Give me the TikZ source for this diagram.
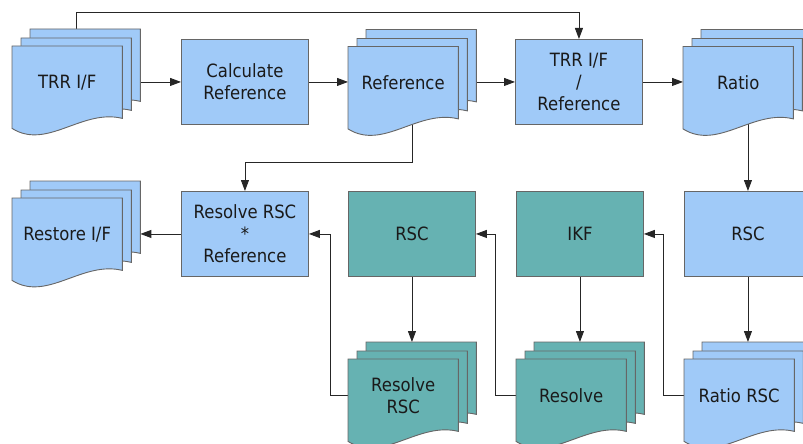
\documentclass[tikz,border=0pt]{standalone}
\usepackage{fontspec}
\setmainfont{DejaVu Sans}[FakeStretch=0.9]
\usetikzlibrary{calc,arrows.meta,backgrounds}
\definecolor{docblue}{HTML}{A0CAF8}
\definecolor{docteal}{HTML}{66B2B2}
\definecolor{edgegray}{HTML}{666666}
\definecolor{ink}{HTML}{1A1A1A}
\newcommand\txtfont{\fontsize{18.3}{22}\selectfont}
\tikzset{
  pg/.style={minimum width=110pt, minimum height=72pt, inner sep=0pt, anchor=north west},
  shapeline/.style={draw=edgegray, line width=0.9pt},
  box/.style={shapeline, minimum width=127pt, minimum height=85pt, inner sep=0pt, anchor=north west, align=center, font=\txtfont, text=ink},
  txt/.style={align=center, font=\txtfont, text=ink, inner sep=0pt},
  arr/.style={draw=black!85, line width=0.9pt, -{Triangle[length=11pt,width=8pt]}},
}
\newcommand\docpath[2]{%
  \filldraw[shapeline, fill=#2] (#1.north west) -- (#1.north east) -- (#1.south east)
    .. controls ($(#1.south west)+(70,-10)$) and ($(#1.south west)+(35,32)$) .. ($(#1.south west)+(0,10)$) -- cycle;}
\newcommand\mdoc[5]{%
  \node[pg] (#1c) at (#2+18,#3-17) {};
  \docpath{#1c}{#4}
  \node[pg] (#1b) at (#2+9,#3-8) {};
  \docpath{#1b}{#4}
  \node[pg] (#1) at (#2,#3) {};
  \docpath{#1}{#4}
  \node[txt] (#1t) at (#1.center) {#5};}
\begin{document}
\begin{tikzpicture}[x=1pt,y=-1pt]
\useasboundingbox (0,0) rectangle (803,444);
\clip (0,0) rectangle (803,444);
% row 1
\mdoc{trr}{12}{46}{docblue}{TRR I/F}
\node[box, fill=docblue] (calc) at (181,39) {Calculate\\Reference};
\mdoc{ref}{348}{46.5}{docblue}{Reference}
\node[box, fill=docblue] (trrref) at (515,39) {TRR I/F\\/\\Reference};
\mdoc{ratio}{683}{46.5}{docblue}{Ratio}
% row 2
\mdoc{restore}{12}{198}{docblue}{Restore I/F}
\node[box, fill=docblue] (resbox) at (181,191) {Resolve RSC\\*\\Reference};
\node[box, fill=docteal] (rsct) at (348,191) {RSC};
\node[box, fill=docteal] (ikf) at (516,191) {IKF};
\node[box, fill=docblue] (rscb) at (684,191) {RSC};
% row 3
\mdoc{rrsc}{348}{359}{docteal}{Resolve\\RSC}
\mdoc{resdoc}{516}{359}{docteal}{Resolve}
\mdoc{ratiorsc}{684}{359}{docblue}{Ratio RSC}
\coordinate (midA) at (0,162);
\begin{pgfonlayer}{background}
\draw[arr] (calc.west -| trrc.east) -- (calc.west);
\draw[arr] (calc.east) -- (calc.east -| ref.west);
\draw[arr] (trrref.west -| refc.east) -- (trrref.west);
\draw[arr] (trrref.east) -- (trrref.east -| ratio.west);
\draw[arr] (trrb.north |- trrc.north) -- ++(0,-17) -| (trrref.north);
\draw[arr] (refb.center) -- (refb.center |- midA) -| (resbox.north);
\draw[arr] (rscb.north |- ratiob.center) -- (rscb.north);
\draw[arr] (rscb.south) -- (rscb.south |- ratiorscc.north);
\draw[arr] (ratiorsc.west) -- ++(-21,0) |- (ikf.east);
\draw[arr] (ikf.south) -- (ikf.south |- resdocc.north);
\draw[arr] (resdoc.west) -- ++(-21,0) |- (rsct.east);
\draw[arr] (rsct.south) -- (rsct.south |- rrscc.north);
\draw[arr] (rrsc.west) -- ++(-18,0) |- (resbox.east);
\draw[arr] (resbox.west) -- (resbox.west -| restorec.east);
\end{pgfonlayer}
\end{tikzpicture}
\end{document}
